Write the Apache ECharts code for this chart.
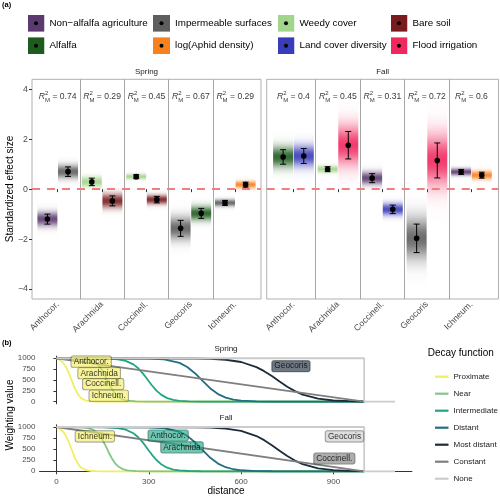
<!DOCTYPE html>
<html><head><meta charset="utf-8">
<script src="https://cdn.jsdelivr.net/npm/echarts@6/dist/echarts.min.js"></script>
<style>html,body{margin:0;padding:0;background:#fff}#c{width:500px;height:497px}</style>
</head><body><div id="c"></div>
<script>
// ---------- Panel (a) data ----------
const species = ['Anthocor.', 'Arachnida', 'Coccinell.', 'Geocoris', 'Ichneum.'];
const yTicksA = [-4, -2, 0, 2, 4];
const predictors = ['Non\u2212alfalfa agriculture', 'Impermeable surfaces', 'Weedy cover', 'Bare soil',
                    'Alfalfa', 'log(Aphid density)', 'Land cover diversity', 'Flood irrigation'];
const predictorColors = ['#5B3B6F', '#5E5E5E', '#A3D48B', '#7A1B1E', '#1E5B1E', '#F7801F', '#3A3CB8', '#F0285E'];

const springR2 = ['0.74', '0.29', '0.45', '0.67', '0.29'];
const springVarL = ['Non\u2212alfalfa agriculture', 'Weedy cover', 'Weedy cover', 'Impermeable surfaces', 'Impermeable surfaces'];
const springEstL = [-1.2, 0.29, 0.5, -1.57, -0.55];
const springSeL = [0.2, 0.15, 0.08, 0.32, 0.1];
const springVarR = ['Impermeable surfaces', 'Bare soil', 'Bare soil', 'Alfalfa', 'log(Aphid density)'];
const springEstR = [0.7, -0.47, -0.42, -0.97, 0.18];
const springSeR = [0.19, 0.2, 0.13, 0.2, 0.1];

const fallR2 = ['0.4', '0.45', '0.31', '0.72', '0.6'];
const fallVarL = ['Alfalfa', 'Weedy cover', 'Non\u2212alfalfa agriculture', 'Impermeable surfaces', 'Non\u2212alfalfa agriculture'];
const fallEstL = [1.29, 0.8, 0.44, -1.97, 0.69];
const fallSeL = [0.29, 0.1, 0.18, 0.57, 0.1];
const fallVarR = ['Land cover diversity', 'Flood irrigation', 'Land cover diversity', 'Flood irrigation', 'log(Aphid density)'];
const fallEstR = [1.33, 1.76, -0.81, 1.15, 0.56];
const fallSeR = [0.3, 0.55, 0.17, 0.7, 0.12];

// ---------- Panel (b) data ----------
const decayNames = ['Proximate', 'Near', 'Intermediate', 'Distant', 'Most distant', 'Constant', 'None'];
const decayColors = ['#F2EE62', '#84C68A', '#22A585', '#236F80', '#1B2C3C', '#7F7F7F', '#CCCCCC'];
const xTicksB = [0, 300, 600, 900];
const yTicksB = [0, 250, 500, 750, 1000];

const proximateDist = [0, 10, 20, 30, 40, 50, 60, 70, 80, 90, 100, 115, 130, 150, 1000];
const proximateWeight = [1000, 965, 910, 812, 666, 481, 300, 166, 84, 41, 19, 6, 2, 0, 0];
const nearDist = [0, 80, 100, 120, 130, 140, 150, 160, 170, 180, 190, 200, 215, 230, 260, 300, 1000];
const nearWeight = [1000, 995, 980, 935, 890, 815, 705, 575, 425, 295, 185, 115, 50, 20, 5, 0, 0];
const intermediateDist = [0, 150, 200, 225, 250, 265, 280, 290, 300, 310, 325, 340, 360, 380, 400, 430, 470, 1000];
const intermediateWeight = [1000, 996, 977, 941, 859, 774, 658, 567, 471, 378, 254, 161, 81, 40, 19, 6, 1, 0];
const distantDist = [0, 300, 350, 400, 425, 450, 475, 500, 525, 550, 575, 600, 650, 700, 1000];
const distantWeight = [1000, 994, 973, 893, 799, 656, 478, 305, 174, 92, 46, 23, 5, 1, 0];
const mostDistantDist = [0, 450, 500, 550, 600, 650, 675, 700, 725, 750, 775, 800, 850, 900, 950, 1000];
const mostDistantWeight = [1000, 995, 987, 966, 914, 796, 703, 589, 465, 345, 242, 162, 67, 26, 10, 3];
const constantDist = [0, 1000];
const constantWeight = [1000, 0];
const noneDist = [0, 1000, 1000, 1100];
const noneWeight = [1000, 1000, 0, 0];
const decayDists = [proximateDist, nearDist, intermediateDist, distantDist, mostDistantDist, constantDist, noneDist];
const decayWeights = [proximateWeight, nearWeight, intermediateWeight, distantWeight, mostDistantWeight, constantWeight, noneWeight];

const springLabels = ['Anthocor.', 'Arachnida', 'Coccinell.', 'Ichneum.', 'Geocoris'];
const springLabelFn = ['Proximate', 'Proximate', 'Proximate', 'Proximate', 'Most distant'];
const springLabelDist = [113, 139, 152, 170, 762];
const springLabelWeight = [921, 654, 403, 136, 818];
const fallLabels = ['Ichneum.', 'Anthocor.', 'Arachnida', 'Geocoris', 'Coccinell.'];
const fallLabelFn = ['Proximate', 'Intermediate', 'Intermediate', 'None', 'Constant'];
const fallLabelDist = [125, 363, 408, 936, 903];
const fallLabelWeight = [789, 808, 542, 790, 289];

// ---------- helpers ----------
const FONT = 'Liberation Sans, Arial, Helvetica, sans-serif';
function rgba(hex, a) {
  const n = parseInt(hex.slice(1), 16);
  return 'rgba(' + ((n >> 16) & 255) + ',' + ((n >> 8) & 255) + ',' + (n & 255) + ',' + a + ')';
}
const predColor = {};
predictors.forEach((p, i) => predColor[p] = predictorColors[i]);
const decayColor = {};
decayNames.forEach((d, i) => decayColor[d] = decayColors[i]);
const minusFmt = v => (v < 0 ? '\u2212' + Math.abs(v) : String(v));

function legendIcon(color) {
  const svg = '<svg xmlns="http://www.w3.org/2000/svg" width="17" height="17"><rect width="17" height="17" fill="' + color +
    '"/><circle cx="8.5" cy="8.5" r="2" fill="#000"/></svg>';
  return 'image://data:image/svg+xml;charset=utf-8,' + encodeURIComponent(svg);
}

function makeRender(color) {
  return function (params, api) {
    const cat = api.value(0), slot = api.value(1), est = api.value(2), se = api.value(3);
    const bw = api.size([1, 0])[0];
    const cx = api.coord([cat, est])[0] + (slot === 0 ? -1 : 1) * bw * 0.232;
    const w = bw * 0.45;
    const k = 3.5;
    const yTop = api.coord([cat, est + k * se])[1];
    const yBot = api.coord([cat, est - k * se])[1];
    const yEst = api.coord([cat, est])[1];
    const yHi = api.coord([cat, est + se])[1];
    const yLo = api.coord([cat, est - se])[1];
    const stops = [];
    const n = 40;
    for (let i = 0; i <= n; i++) {
      const z = k - i * (2 * k / n);
      stops.push({ offset: i / n, color: rgba(color, 0.9 * Math.exp(-z * z / 2)) });
    }
    return {
      type: 'group', children: [
        { type: 'rect', shape: { x: cx - w / 2, y: yTop, width: w, height: yBot - yTop },
          style: { fill: { type: 'linear', x: 0, y: 0, x2: 0, y2: 1, colorStops: stops } } },
        { type: 'line', shape: { x1: cx, y1: yHi, x2: cx, y2: yLo }, style: { stroke: '#000', lineWidth: 1 } },
        { type: 'line', shape: { x1: cx - 3, y1: yHi, x2: cx + 3, y2: yHi }, style: { stroke: '#000', lineWidth: 1 } },
        { type: 'line', shape: { x1: cx - 3, y1: yLo, x2: cx + 3, y2: yLo }, style: { stroke: '#000', lineWidth: 1 } },
        { type: 'circle', shape: { cx: cx, cy: yEst, r: 2.8 }, style: { fill: '#000' } }
      ]
    };
  };
}

const seasonsA = [
  { outer: 0, inner: 2, r2: springR2, varL: springVarL, estL: springEstL, seL: springSeL, varR: springVarR, estR: springEstR, seR: springSeR },
  { outer: 1, inner: 3, r2: fallR2, varL: fallVarL, estL: fallEstL, seL: fallSeL, varR: fallVarR, estR: fallEstR, seR: fallSeR }
];
// axis index: 0 spring outer, 1 fall outer, 2 spring inner, 3 fall inner, 4 b spring, 5 b fall

const series = [];
seasonsA.forEach(s => {
  series.push({
    type: 'line', xAxisIndex: s.outer, yAxisIndex: s.outer, data: [], silent: true, z: 1,
    markLine: { symbol: 'none', silent: true, label: { show: false },
      lineStyle: { color: '#F08080', width: 2, type: [8, 7] }, data: [{ yAxis: 0 }] }
  });
  predictors.forEach(p => {
    const data = [];
    for (let i = 0; i < species.length; i++) {
      if (s.varL[i] === p) data.push([i, 0, s.estL[i], s.seL[i]]);
      if (s.varR[i] === p) data.push([i, 1, s.estR[i], s.seR[i]]);
    }
    if (!data.length) return;
    series.push({
      type: 'custom', name: p, xAxisIndex: s.inner, yAxisIndex: s.inner, z: 3,
      itemStyle: { color: predColor[p] }, encode: { x: 0, y: 2 },
      renderItem: makeRender(predColor[p]), data: data, silent: true
    });
  });
  series.push({
    type: 'scatter', xAxisIndex: s.inner, yAxisIndex: s.inner, symbolSize: 1, silent: true, z: 4,
    itemStyle: { color: 'rgba(0,0,0,0)' },
    data: s.r2.map((r, i) => ({ value: [i, 3.71], name: r })),
    label: {
      show: true, position: 'inside', color: '#000',
      formatter: p => '{i|R}{sup|2}{sub|M}{n| = ' + p.name + '}',
      rich: {
        i: { fontStyle: 'italic', fontSize: 8.6, lineHeight: 13, fontFamily: FONT, color: '#000' },
        sup: { fontSize: 6, verticalAlign: 'top', fontFamily: FONT, color: '#000' },
        sub: { fontSize: 6, verticalAlign: 'bottom', fontFamily: FONT, color: '#000', padding: [0, 0, 0, -3.4] },
        n: { fontSize: 8.6, lineHeight: 13, fontFamily: FONT, color: '#000' }
      }
    }
  });
});

[4, 5].forEach((g, gi) => {
  decayNames.forEach((d, i) => {
    series.push({
      type: 'line', name: d, xAxisIndex: g, yAxisIndex: g, showSymbol: false, symbol: 'none', silent: true,
      z: 2, lineStyle: { color: decayColors[i], width: 1.8 }, itemStyle: { color: decayColors[i] },
      data: decayDists[i].map((x, j) => [x, decayWeights[i][j]])
    });
  });
  const names = gi === 0 ? springLabels : fallLabels;
  const fns = gi === 0 ? springLabelFn : fallLabelFn;
  const ds = gi === 0 ? springLabelDist : fallLabelDist;
  const ws = gi === 0 ? springLabelWeight : fallLabelWeight;
  series.push({
    type: 'scatter', xAxisIndex: g, yAxisIndex: g, symbolSize: 1, silent: true, z: 10,
    itemStyle: { color: 'rgba(0,0,0,0)' },
    data: names.map((n, i) => ({ name: n, value: [ds[i], ws[i]], label: { backgroundColor: rgba(decayColor[fns[i]], 0.8) } })),
    label: { show: true, position: 'inside', formatter: '{b}', fontSize: 8.3, fontFamily: FONT, color: '#000',
      padding: [2, 2.5, 1, 2.5], borderRadius: 2, borderColor: 'rgba(0,0,0,0.55)', borderWidth: 0.6 }
  });
});

const gridTop = 79.3, gridH = 219.7;
const outerX = g => ({ type: 'value', gridIndex: g, min: 0, max: 1, show: false });
const catX = g => ({
  type: 'category', gridIndex: g, data: species, boundaryGap: true,
  axisLine: { show: false },
  axisTick: { show: true, alignWithLabel: true, length: 3, lineStyle: { color: '#333' } },
  axisLabel: { rotate: 45, fontSize: 8.8, color: '#4D4D4D', margin: 4, interval: 0, fontFamily: FONT },
  splitLine: { show: true, showMinLine: false, showMaxLine: false, lineStyle: { color: '#A6A6A6', width: 1 } }
});
const yA = (g, labels) => ({
  type: 'value', gridIndex: g, min: -4.4, max: 4.4, axisLine: { show: false }, splitLine: { show: false },
  axisTick: { show: labels, length: 3, customValues: yTicksA, lineStyle: { color: '#333' } },
  axisLabel: { show: labels, customValues: yTicksA, fontSize: 8.8, color: '#4D4D4D', margin: 4, formatter: minusFmt, fontFamily: FONT }
});
const yHidden = g => ({ type: 'value', gridIndex: g, min: -4.4, max: 4.4, show: false });
const yB = g => ({
  type: 'value', gridIndex: g, min: -50, max: 1050, splitLine: { show: false },
  axisLine: { show: true, lineStyle: { color: '#333', width: 1 } },
  axisTick: { show: true, length: 3, customValues: yTicksB, lineStyle: { color: '#333' } },
  axisLabel: { customValues: yTicksB, fontSize: 8, color: '#4D4D4D', margin: 4, fontFamily: FONT, formatter: v => String(v) }
});

const txt = (x, y, text, size, extra) => Object.assign({
  type: 'text', x: x, y: y, silent: true,
  style: Object.assign({ text: text, fontSize: size, fontFamily: FONT, fill: '#000', align: 'center', verticalAlign: 'middle' }, (extra && extra.style) || {})
}, extra && extra.rotation !== undefined ? { rotation: extra.rotation } : {});

const legendCols = [
  [predictors[0], predictors[4]], [predictors[1], predictors[5]],
  [predictors[2], predictors[6]], [predictors[3], predictors[7]]
];
const legendLefts = [22.5, 148, 272.5, 385.5];

const option = {
  animation: false,
  textStyle: { fontFamily: FONT },
  grid: [
    { left: 32, top: gridTop, width: 229, height: gridH, show: true, borderColor: '#B0B0B0', borderWidth: 1, backgroundColor: 'transparent' },
    { left: 266.7, top: gridTop, width: 231.8, height: gridH, show: true, borderColor: '#B0B0B0', borderWidth: 1, backgroundColor: 'transparent' },
    { left: 35.5, top: gridTop, width: 222, height: gridH },
    { left: 271.2, top: gridTop, width: 222.5, height: gridH },
    { left: 39.5, top: 356.1, width: 372.4, height: 47.7 },
    { left: 39.5, top: 424.8, width: 372.4, height: 48.7 }
  ],
  xAxis: [
    outerX(0), outerX(1), catX(2), catX(3),
    { type: 'value', gridIndex: 4, min: -55, max: 1155, show: false },
    { type: 'value', gridIndex: 5, min: -55, max: 1155, splitLine: { show: false },
      axisLine: { show: true, lineStyle: { color: '#333', width: 1 } },
      axisTick: { show: true, length: 3, customValues: xTicksB, lineStyle: { color: '#333' } },
      axisLabel: { customValues: xTicksB, fontSize: 8, color: '#4D4D4D', margin: 4, fontFamily: FONT, formatter: v => String(v) } }
  ],
  yAxis: [yA(0, true), yA(1, false), yHidden(2), yHidden(3), yB(4), yB(5)],
  legend: legendCols.map((col, ci) => ({
    orient: 'vertical', left: legendLefts[ci], top: 9.8, itemWidth: 17, itemHeight: 17, itemGap: 5.4,
    selectedMode: false, textStyle: { fontSize: 9.8, color: '#000', fontFamily: FONT },
    data: col.map(n => ({ name: n, icon: legendIcon(predColor[n]) }))
  })).concat([{
    orient: 'vertical', left: 430, top: 365.7, itemWidth: 13.5, itemHeight: 2.2, itemGap: 5,
    icon: 'rect', selectedMode: false,
    textStyle: { fontSize: 8, color: '#1A1A1A', fontFamily: FONT, lineHeight: 12 },
    data: decayNames
  }]),
  graphic: [
    txt(2, 5, '(a)', 7.5, { style: { align: 'left', fontWeight: 'bold' } }),
    txt(2, 343.3, '(b)', 7.5, { style: { align: 'left', fontWeight: 'bold' } }),
    txt(146.5, 71.6, 'Spring', 8, { style: { fill: '#1A1A1A' } }),
    txt(382.6, 71.6, 'Fall', 8, { style: { fill: '#1A1A1A' } }),
    txt(226, 348.3, 'Spring', 8, { style: { fill: '#1A1A1A' } }),
    txt(226, 417.3, 'Fall', 8, { style: { fill: '#1A1A1A' } }),
    txt(10, 189, 'Standardized effect size', 10, { rotation: Math.PI / 2 }),
    txt(10, 415, 'Weighting value', 10, { rotation: Math.PI / 2 }),
    txt(226, 491, 'distance', 10),
    txt(427.7, 353.3, 'Decay function', 10, { style: { align: 'left' } })
  ],
  series: series
};

const chart = echarts.init(document.getElementById('c'), null, { renderer: 'canvas' });
chart.setOption(option);
</script>
</body></html>
